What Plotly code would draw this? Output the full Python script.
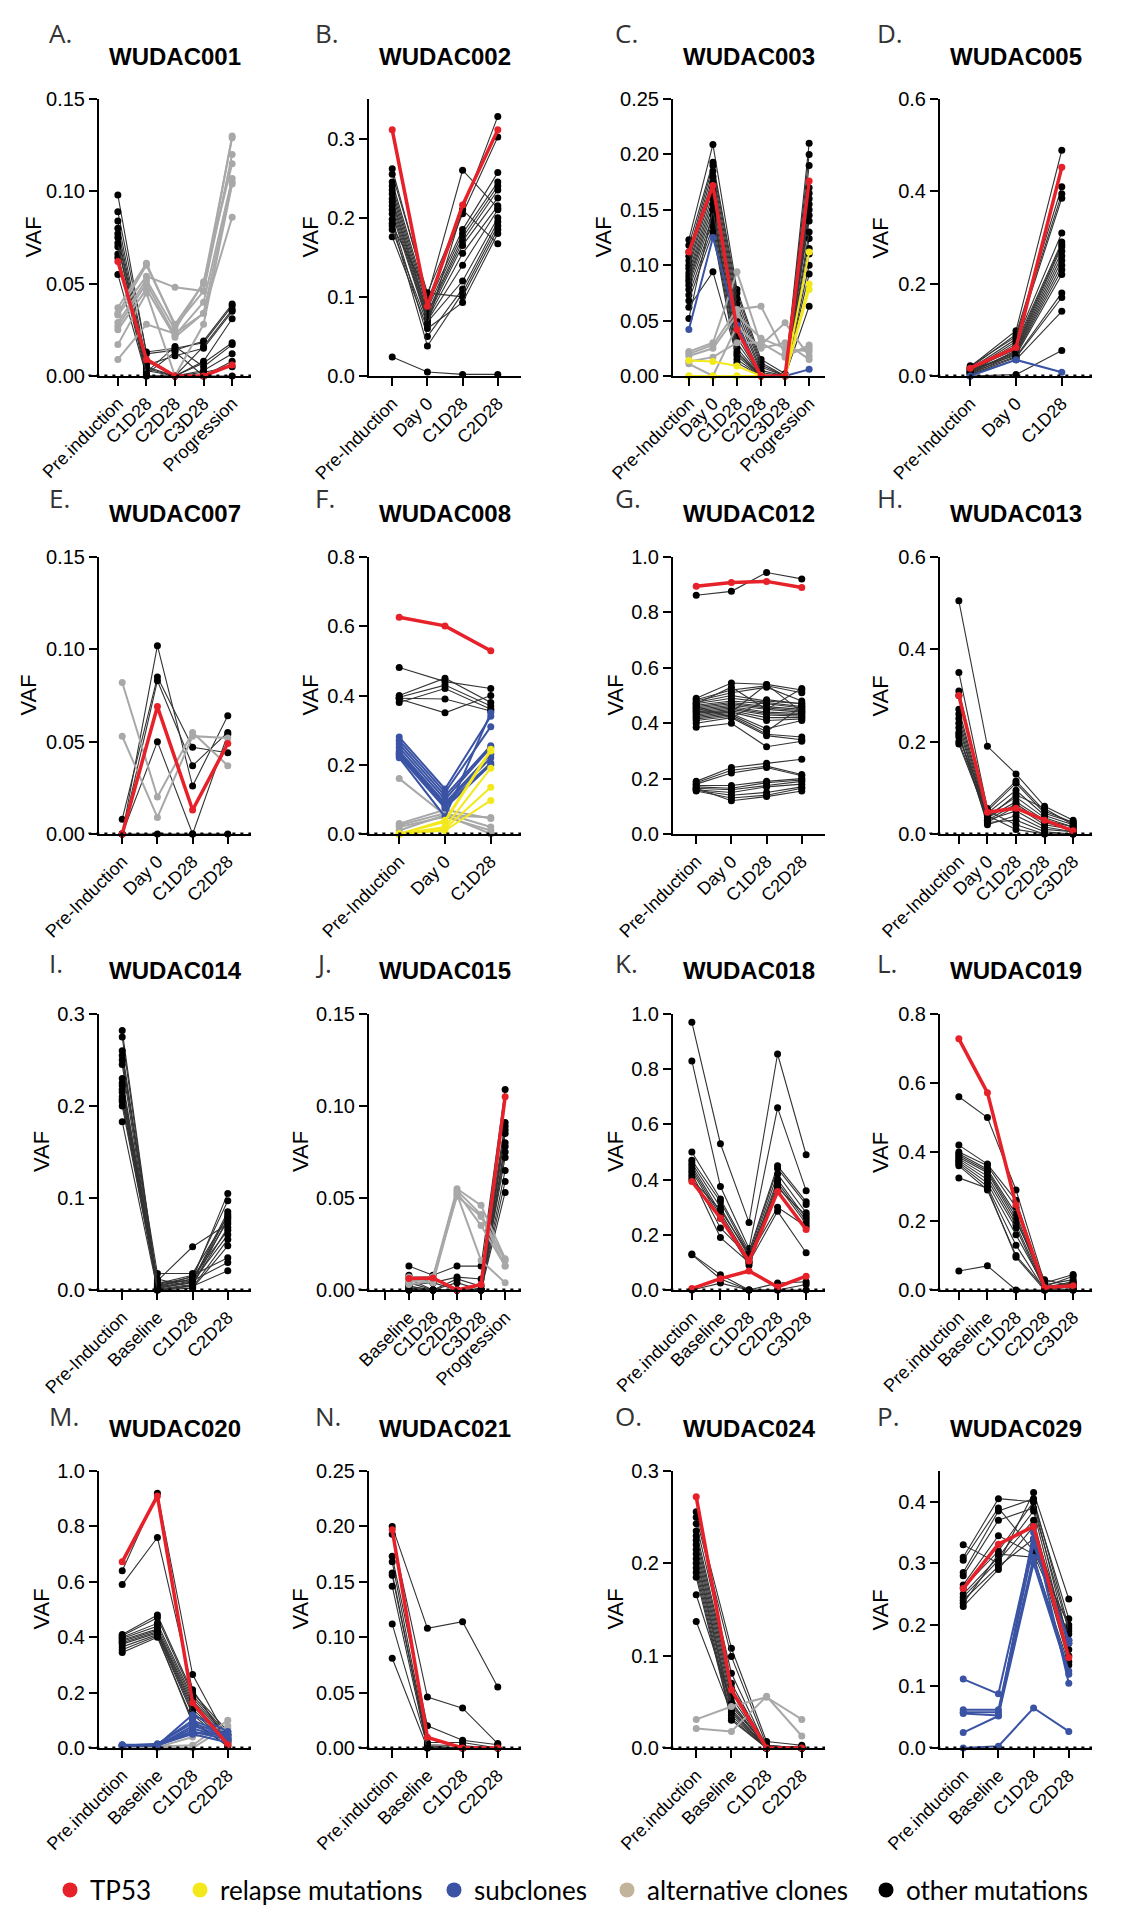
import plotly.graph_objects as go

# ---------------- data ----------------
A_cats = ["Pre.induction", "C1D28", "C2D28", "C3D28", "Progression"]
A_red = [[0.062, 0.009, 0.0, 0.0, 0.006]]
A_black = [
    [0.098, 0.012, 0.014, 0.019, 0.039], [0.089, 0.013, 0.015, 0.018, 0.038],
    [0.084, 0.008, 0.0, 0.016, 0.036], [0.080, 0.006, 0.011, 0.015, 0.035],
    [0.077, 0.004, 0.0, 0.008, 0.031], [0.075, 0.003, 0.0, 0.007, 0.018],
    [0.066, 0.002, 0.016, 0.005, 0.017], [0.064, 0.0, 0.0, 0.003, 0.012],
    [0.055, 0.0, 0.0, 0.002, 0.005], [0.070, 0.005, 0.0, 0.0, 0.0],
    [0.072, 0.001, 0.013, 0.0, 0.008]]
A_gray = [
    [0.037, 0.061, 0.027, 0.046, 0.130], [0.034, 0.060, 0.028, 0.050, 0.129],
    [0.033, 0.054, 0.048, 0.046, 0.120], [0.029, 0.052, 0.025, 0.051, 0.115],
    [0.027, 0.050, 0.022, 0.040, 0.107], [0.025, 0.047, 0.021, 0.034, 0.105],
    [0.017, 0.045, 0.0, 0.028, 0.104], [0.009, 0.028, 0.023, 0.034, 0.086]]

B_cats = ["Pre-Induction", "Day 0", "C1D28", "C2D28"]
B_red = [[0.311, 0.088, 0.216, 0.311]]
B_black = [
    [0.262, 0.100, 0.260, 0.212], [0.255, 0.105, 0.210, 0.328], [0.245, 0.095, 0.205, 0.302],
    [0.240, 0.090, 0.185, 0.257], [0.235, 0.085, 0.180, 0.245], [0.230, 0.080, 0.175, 0.240],
    [0.224, 0.078, 0.170, 0.235], [0.220, 0.075, 0.165, 0.225], [0.215, 0.072, 0.155, 0.215],
    [0.210, 0.070, 0.140, 0.210], [0.205, 0.068, 0.120, 0.200], [0.198, 0.050, 0.110, 0.195],
    [0.193, 0.038, 0.105, 0.190], [0.190, 0.105, 0.100, 0.185], [0.176, 0.060, 0.093, 0.180],
    [0.185, 0.065, 0.210, 0.167], [0.024, 0.005, 0.002, 0.002]]

C_cats = ["Pre-Induction", "Day 0", "C1D28", "C2D28", "C3D28", "Progression"]
C_red = [[0.112, 0.172, 0.042, 0.0, 0.0, 0.176]]
C_black = [
    [0.123, 0.209, 0.078, 0.015, 0.002, 0.210], [0.118, 0.193, 0.075, 0.012, 0.0, 0.200],
    [0.112, 0.190, 0.070, 0.010, 0.0, 0.190], [0.108, 0.185, 0.065, 0.008, 0.0, 0.170],
    [0.104, 0.180, 0.060, 0.005, 0.0, 0.165], [0.100, 0.175, 0.055, 0.003, 0.0, 0.160],
    [0.097, 0.170, 0.050, 0.0, 0.0, 0.155], [0.093, 0.165, 0.045, 0.0, 0.0, 0.150],
    [0.090, 0.160, 0.040, 0.0, 0.0, 0.145], [0.087, 0.155, 0.035, 0.0, 0.0, 0.140],
    [0.085, 0.150, 0.030, 0.0, 0.0, 0.124], [0.082, 0.145, 0.025, 0.0, 0.0, 0.115],
    [0.078, 0.140, 0.020, 0.0, 0.0, 0.110], [0.073, 0.135, 0.015, 0.0, 0.0, 0.100],
    [0.068, 0.130, 0.012, 0.0, 0.0, 0.092], [0.062, 0.094, 0.018, 0.0, 0.0, 0.063],
    [0.052, 0.150, 0.022, 0.0, 0.0, 0.130]]
C_gray = [
    [0.022, 0.030, 0.094, 0.028, 0.048, 0.018], [0.020, 0.028, 0.060, 0.063, 0.020, 0.025],
    [0.018, 0.025, 0.055, 0.034, 0.025, 0.022], [0.013, 0.017, 0.030, 0.030, 0.017, 0.028],
    [0.011, 0.0, 0.045, 0.025, 0.030, 0.015]]
C_blue = [[0.042, 0.125, 0.046, 0.0, 0.0, 0.006]]
C_yellow = [[0.014, 0.013, 0.009, 0.0, 0.0, 0.112], [0.0, 0.0, 0.0, 0.0, 0.0, 0.083],
            [0.0, 0.0, 0.0, 0.0, 0.0, 0.078]]

D_cats = ["Pre-Induction", "Day 0", "C1D28"]
D_red = [[0.017, 0.062, 0.452]]
D_black = [
    [0.020, 0.098, 0.489], [0.018, 0.090, 0.410], [0.022, 0.085, 0.395], [0.015, 0.080, 0.385],
    [0.012, 0.075, 0.310], [0.010, 0.070, 0.290], [0.008, 0.065, 0.285], [0.016, 0.060, 0.280],
    [0.014, 0.058, 0.270], [0.006, 0.055, 0.260], [0.011, 0.052, 0.250], [0.009, 0.050, 0.240],
    [0.005, 0.048, 0.230], [0.013, 0.045, 0.220], [0.007, 0.042, 0.180], [0.004, 0.040, 0.170],
    [0.003, 0.035, 0.140], [0.0, 0.003, 0.055]]
D_blue = [[0.0, 0.035, 0.008]]

E_cats = ["Pre-Induction", "Day 0", "C1D28", "C2D28"]
E_red = [[0.0, 0.069, 0.013, 0.049]]
E_black = [[0.008, 0.085, 0.047, 0.044], [0.0, 0.102, 0.026, 0.064], [0.0, 0.083, 0.037, 0.055],
           [0.0, 0.050, 0.0, 0.054], [0.0, 0.0, 0.0, 0.0]]
E_gray = [[0.082, 0.020, 0.055, 0.037], [0.053, 0.009, 0.053, 0.052]]

F_cats = ["Pre-Induction", "Day 0", "C1D28"]
F_red = [[0.626, 0.601, 0.529]]
F_black = [[0.481, 0.440, 0.420], [0.400, 0.450, 0.380], [0.395, 0.430, 0.370],
           [0.390, 0.350, 0.400], [0.380, 0.420, 0.360], [0.392, 0.390, 0.355]]
F_blue = [[0.280, 0.130, 0.340], [0.270, 0.120, 0.310], [0.260, 0.110, 0.255],
          [0.250, 0.100, 0.250], [0.240, 0.090, 0.230], [0.235, 0.085, 0.220],
          [0.230, 0.080, 0.205], [0.225, 0.075, 0.200], [0.220, 0.050, 0.350]]
F_yellow = [[0.0, 0.040, 0.245], [0.0, 0.035, 0.240], [0.0, 0.020, 0.190],
            [0.0, 0.015, 0.135], [0.0, 0.010, 0.097]]
F_gray = [[0.160, 0.055, 0.048], [0.030, 0.070, 0.045], [0.025, 0.060, 0.020],
          [0.020, 0.050, 0.010], [0.010, 0.055, 0.0]]

G_cats = ["Pre-Induction", "Day 0", "C1D28", "C2D28"]
G_red = [[0.894, 0.908, 0.912, 0.890]]
G_black = [
    [0.862, 0.876, 0.944, 0.921],
    [0.49, 0.545, 0.54, 0.52], [0.485, 0.52, 0.535, 0.51], [0.48, 0.51, 0.53, 0.48],
    [0.475, 0.50, 0.48, 0.47], [0.47, 0.49, 0.475, 0.46], [0.465, 0.48, 0.47, 0.455],
    [0.46, 0.475, 0.46, 0.45], [0.455, 0.47, 0.455, 0.445], [0.45, 0.465, 0.45, 0.44],
    [0.445, 0.46, 0.44, 0.435], [0.44, 0.455, 0.435, 0.43], [0.435, 0.45, 0.43, 0.425],
    [0.43, 0.445, 0.42, 0.42], [0.425, 0.44, 0.41, 0.415], [0.42, 0.435, 0.38, 0.41],
    [0.415, 0.43, 0.37, 0.46], [0.41, 0.425, 0.36, 0.35], [0.40, 0.42, 0.355, 0.34],
    [0.385, 0.40, 0.315, 0.335], [0.44, 0.44, 0.54, 0.44], [0.47, 0.53, 0.45, 0.525],
    [0.455, 0.42, 0.485, 0.47],
    [0.19, 0.24, 0.255, 0.27], [0.185, 0.23, 0.245, 0.215], [0.18, 0.22, 0.24, 0.21],
    [0.175, 0.175, 0.19, 0.20], [0.17, 0.165, 0.185, 0.195], [0.165, 0.16, 0.175, 0.19],
    [0.16, 0.15, 0.17, 0.18], [0.158, 0.14, 0.15, 0.17], [0.155, 0.13, 0.14, 0.165],
    [0.165, 0.12, 0.135, 0.155]]

H_cats = ["Pre-Induction", "Day 0", "C1D28", "C2D28", "C3D28"]
H_red = [[0.300, 0.047, 0.056, 0.030, 0.007]]
H_black = [
    [0.505, 0.190, 0.130, 0.060, 0.030], [0.350, 0.055, 0.115, 0.050, 0.025],
    [0.310, 0.050, 0.110, 0.045, 0.025], [0.300, 0.045, 0.095, 0.040, 0.020],
    [0.270, 0.040, 0.080, 0.035, 0.015], [0.260, 0.035, 0.070, 0.030, 0.015],
    [0.250, 0.030, 0.065, 0.025, 0.010], [0.240, 0.025, 0.060, 0.020, 0.010],
    [0.230, 0.030, 0.050, 0.015, 0.005], [0.220, 0.020, 0.040, 0.010, 0.005],
    [0.215, 0.025, 0.030, 0.005, 0.0], [0.210, 0.050, 0.020, 0.0, 0.0],
    [0.200, 0.040, 0.010, 0.0, 0.0], [0.195, 0.035, 0.085, 0.055, 0.020]]

I_cats = ["Pre-Induction", "Baseline", "C1D28", "C2D28"]
I_black = [
    [0.282, 0.005, 0.012, 0.105], [0.275, 0.003, 0.015, 0.097], [0.260, 0.008, 0.010, 0.085],
    [0.255, 0.002, 0.008, 0.082], [0.250, 0.018, 0.018, 0.080], [0.245, 0.0, 0.005, 0.078],
    [0.230, 0.004, 0.012, 0.075], [0.225, 0.010, 0.047, 0.072], [0.222, 0.001, 0.006, 0.068],
    [0.218, 0.006, 0.014, 0.065], [0.215, 0.002, 0.009, 0.060], [0.210, 0.012, 0.003, 0.055],
    [0.207, 0.0, 0.002, 0.048], [0.205, 0.007, 0.016, 0.035], [0.200, 0.003, 0.010, 0.030],
    [0.183, 0.0, 0.004, 0.021]]

J_cats = ["", "Baseline", "C1D28", "C2D28", "C3D28", "Progression"]
J_red = [[None, 0.0063, 0.0065, 0.0, 0.003, 0.105]]
J_black = [
    [None, 0.013, 0.008, 0.013, 0.013, 0.109], [None, 0.008, 0.004, 0.007, 0.006, 0.091],
    [None, 0.006, 0.0, 0.006, 0.002, 0.089], [None, 0.004, 0.0, 0.004, 0.0, 0.087],
    [None, 0.002, 0.0, 0.0, 0.0, 0.085], [None, 0.0, 0.0, 0.0, 0.0, 0.080],
    [None, 0.003, 0.004, 0.0, 0.0, 0.078], [None, 0.0, 0.0, 0.0, 0.0, 0.075],
    [None, 0.001, 0.0, 0.0, 0.0, 0.072], [None, 0.0, 0.0, 0.0, 0.0, 0.065],
    [None, 0.002, 0.0, 0.0, 0.0, 0.059], [None, 0.0, 0.0, 0.0, 0.0, 0.053]]
J_gray = [
    [None, 0.007, 0.007, 0.055, 0.046, 0.017], [None, 0.005, 0.006, 0.054, 0.041, 0.016],
    [None, 0.003, 0.005, 0.053, 0.035, 0.013], [None, 0.006, 0.004, 0.052, 0.016, 0.004],
    [None, 0.004, 0.007, 0.051, 0.040, 0.013]]

K_cats = ["Pre.induction", "Baseline", "C1D28", "C2D28", "C3D28"]
K_red = [[0.393, 0.261, 0.105, 0.357, 0.219], [0.005, 0.041, 0.069, 0.011, 0.050]]
K_black = [
    [0.97, 0.53, 0.245, 0.855, 0.49], [0.83, 0.375, 0.15, 0.66, 0.36],
    [0.50, 0.33, 0.14, 0.45, 0.32], [0.47, 0.32, 0.13, 0.44, 0.31],
    [0.46, 0.30, 0.12, 0.42, 0.28], [0.45, 0.28, 0.11, 0.40, 0.26],
    [0.44, 0.27, 0.10, 0.39, 0.25], [0.43, 0.26, 0.09, 0.38, 0.24],
    [0.42, 0.225, 0.12, 0.30, 0.23], [0.41, 0.19, 0.10, 0.285, 0.135],
    [0.40, 0.29, 0.13, 0.37, 0.27], [0.13, 0.055, 0.0, 0.025, 0.03],
    [0.128, 0.04, 0.0, 0.0, 0.02], [0.0, 0.025, 0.0, 0.0, 0.0]]

L_cats = ["Pre.induction", "Baseline", "C1D28", "C2D28", "C3D28"]
L_red = [[0.728, 0.572, 0.247, 0.007, 0.012]]
L_black = [
    [0.560, 0.500, 0.290, 0.020, 0.045], [0.420, 0.365, 0.260, 0.010, 0.040],
    [0.400, 0.360, 0.240, 0.015, 0.030], [0.395, 0.350, 0.220, 0.010, 0.020],
    [0.390, 0.345, 0.210, 0.005, 0.025], [0.385, 0.340, 0.200, 0.030, 0.010],
    [0.380, 0.330, 0.190, 0.005, 0.015], [0.375, 0.320, 0.180, 0.0, 0.010],
    [0.370, 0.310, 0.160, 0.010, 0.005], [0.365, 0.300, 0.130, 0.0, 0.0],
    [0.360, 0.290, 0.100, 0.005, 0.0], [0.325, 0.295, 0.095, 0.0, 0.020],
    [0.055, 0.070, 0.0, 0.0, 0.0]]

M_cats = ["Pre.induction", "Baseline", "C1D28", "C2D28"]
M_red = [[0.672, 0.910, 0.163, 0.012]]
M_black = [
    [0.640, 0.920, 0.265, 0.030], [0.590, 0.760, 0.210, 0.025], [0.410, 0.480, 0.200, 0.060],
    [0.405, 0.470, 0.190, 0.050], [0.400, 0.450, 0.180, 0.045], [0.395, 0.440, 0.170, 0.040],
    [0.390, 0.430, 0.160, 0.035], [0.385, 0.425, 0.150, 0.030], [0.380, 0.420, 0.140, 0.025],
    [0.375, 0.415, 0.130, 0.020], [0.365, 0.410, 0.120, 0.015], [0.355, 0.405, 0.090, 0.010],
    [0.345, 0.400, 0.100, 0.005]]
M_blue = [
    [0.010, 0.010, 0.120, 0.060], [0.012, 0.012, 0.100, 0.050], [0.008, 0.015, 0.090, 0.045],
    [0.010, 0.008, 0.080, 0.040], [0.006, 0.010, 0.070, 0.035], [0.009, 0.012, 0.060, 0.030],
    [0.011, 0.009, 0.055, 0.050], [0.007, 0.011, 0.050, 0.020]]
M_gray = [[0.005, 0.005, 0.010, 0.100], [0.005, 0.0, 0.0, 0.080], [0.003, 0.003, 0.040, 0.070]]

N_cats = ["Pre.induction", "Baseline", "C1D28", "C2D28"]
N_red = [[0.197, 0.0096, 0.0, 0.0]]
N_black = [
    [0.200, 0.108, 0.114, 0.055], [0.193, 0.046, 0.036, 0.004], [0.173, 0.020, 0.007, 0.003],
    [0.168, 0.005, 0.005, 0.0], [0.158, 0.003, 0.002, 0.0], [0.156, 0.001, 0.0, 0.0],
    [0.146, 0.0, 0.0, 0.0], [0.112, 0.002, 0.0, 0.0], [0.081, 0.0, 0.0, 0.0]]

O_cats = ["Pre.induction", "Baseline", "C1D28", "C2D28"]
O_red = [[0.272, 0.063, 0.0, 0.0]]
O_black = [
    [0.256, 0.108, 0.007, 0.003], [0.250, 0.099, 0.003, 0.0], [0.243, 0.081, 0.0, 0.0],
    [0.235, 0.070, 0.0, 0.0], [0.230, 0.065, 0.003, 0.0], [0.225, 0.060, 0.0, 0.0],
    [0.220, 0.055, 0.0, 0.002], [0.215, 0.050, 0.0, 0.0], [0.210, 0.045, 0.002, 0.0],
    [0.205, 0.042, 0.0, 0.0], [0.200, 0.040, 0.0, 0.0], [0.195, 0.035, 0.0, 0.0],
    [0.190, 0.032, 0.0, 0.0], [0.185, 0.030, 0.0, 0.0], [0.166, 0.048, 0.0, 0.0],
    [0.137, 0.038, 0.0, 0.0]]
O_gray = [[0.031, 0.045, 0.055, 0.031], [0.021, 0.018, 0.056, 0.013]]

P_cats = ["Pre.induction", "Baseline", "C1D28", "C2D28"]
P_red = [[0.259, 0.331, 0.360, 0.147]]
P_black = [
    [0.330, 0.300, 0.415, 0.242], [0.310, 0.405, 0.400, 0.210], [0.305, 0.390, 0.320, 0.200],
    [0.285, 0.385, 0.405, 0.195], [0.280, 0.370, 0.390, 0.190], [0.265, 0.345, 0.315, 0.185],
    [0.260, 0.320, 0.400, 0.170], [0.250, 0.310, 0.385, 0.160], [0.245, 0.305, 0.370, 0.150],
    [0.240, 0.295, 0.340, 0.140], [0.235, 0.315, 0.310, 0.135], [0.230, 0.290, 0.360, 0.175]]
P_blue = [[0.112, 0.088, 0.340, 0.170], [0.062, 0.062, 0.330, 0.175], [0.058, 0.058, 0.310, 0.125],
          [0.056, 0.053, 0.300, 0.120], [0.025, 0.052, 0.350, 0.105], [0.0, 0.003, 0.065, 0.027]]

titles = ["WUDAC001", "WUDAC002", "WUDAC003", "WUDAC005", "WUDAC007", "WUDAC008",
          "WUDAC012", "WUDAC013", "WUDAC014", "WUDAC015", "WUDAC018", "WUDAC019",
          "WUDAC020", "WUDAC021", "WUDAC024", "WUDAC029"]
letters = ["A.", "B.", "C.", "D.", "E.", "F.", "G.", "H.", "I.", "J.", "K.", "L.",
           "M.", "N.", "O.", "P."]
y_max = [0.15, 0.35, 0.25, 0.6, 0.15, 0.8, 1.0, 0.6, 0.3, 0.15, 1.0, 0.8, 1.0, 0.25, 0.3, 0.45]
y_step = [0.05, 0.1, 0.05, 0.2, 0.05, 0.2, 0.2, 0.2, 0.1, 0.05, 0.2, 0.2, 0.2, 0.05, 0.1, 0.1]
y_fmt = [".2f", ".1f", ".2f", ".1f", ".2f", ".1f", ".1f", ".1f", ".1f", ".2f", ".1f", ".1f",
         ".1f", ".2f", ".1f", ".1f"]
dotted_zero = [True, False, False, True, True, True, False, True, True, True, True, True,
               True, True, True, True]
legend_names = ["TP53", "relapse mutations", "subclones", "alternative clones", "other mutations"]

# ---------------- styles ----------------
RED = "#E62129"
YELLOW = "#F3E81C"
BLUE = "#3A53A4"
GRAY = "#A8A8A8"
TAN = "#C2B49A"
BLACK = "#000000"
TICKFONT = "Liberation Sans, Arial, sans-serif"

panels = [
    (A_cats, {"black": A_black, "gray": A_gray, "red": A_red}),
    (B_cats, {"black": B_black, "red": B_red}),
    (C_cats, {"black": C_black, "gray": C_gray, "blue": C_blue, "yellow": C_yellow, "red": C_red}),
    (D_cats, {"black": D_black, "blue": D_blue, "red": D_red}),
    (E_cats, {"gray": E_gray, "black": E_black, "red": E_red}),
    (F_cats, {"gray": F_gray, "black": F_black, "blue": F_blue, "yellow": F_yellow, "red": F_red}),
    (G_cats, {"black": G_black, "red": G_red}),
    (H_cats, {"black": H_black, "red": H_red}),
    (I_cats, {"black": I_black}),
    (J_cats, {"black": J_black, "gray": J_gray, "red": J_red}),
    (K_cats, {"black": K_black, "red": K_red}),
    (L_cats, {"black": L_black, "red": L_red}),
    (M_cats, {"black": M_black, "gray": M_gray, "blue": M_blue, "red": M_red}),
    (N_cats, {"black": N_black, "red": N_red}),
    (O_cats, {"gray": O_gray, "black": O_black, "red": O_red}),
    (P_cats, {"black": P_black, "blue": P_blue, "red": P_red}),
]

STYLE = {
    "black": dict(line=dict(color="#333333", width=1.1), marker=dict(color=BLACK, size=7)),
    "gray": dict(line=dict(color=GRAY, width=2), marker=dict(color=GRAY, size=7)),
    "blue": dict(line=dict(color=BLUE, width=2), marker=dict(color=BLUE, size=7)),
    "yellow": dict(line=dict(color=YELLOW, width=2), marker=dict(color=YELLOW, size=7)),
    "red": dict(line=dict(color=RED, width=3.5), marker=dict(color=RED, size=7)),
}

W, H = 1124, 1910
col_px = [(91, 243), (361, 513), (665, 817), (932, 1084)]
row_px = [(91, 368), (549, 826), (1006, 1282), (1463, 1740)]
title_y = [48, 505, 962, 1420]
letter_y = [25, 490, 955, 1408]
letter_x = [39, 305, 605, 867]
vaf_x = [25, 302, 595, 872, 20, 302, 607, 872, 33, 292, 607, 872, 33, 292, 607, 872]
legend_dot_x = [69, 199, 453, 626, 885]
LEGEND_Y = 1882

fig = go.Figure()
layout = {}
annotations = []
shapes = []

for i, (cats, groups) in enumerate(panels):
    r, c = divmod(i, 4)
    n = i + 1
    xa = "x" if n == 1 else f"x{n}"
    ya = "y" if n == 1 else f"y{n}"
    xs = list(range(len(cats)))
    for key in ["black", "gray", "blue", "yellow", "red"]:
        if key not in groups:
            continue
        for series in groups[key]:
            fig.add_trace(go.Scatter(
                x=xs, y=series, xaxis=xa, yaxis=ya, mode="lines+markers",
                line=STYLE[key]["line"], marker=STYLE[key]["marker"],
                showlegend=False, hoverinfo="skip", cliponaxis=False))
    x0, x1 = col_px[c]
    y0, y1 = row_px[r]
    nt = int(round(y_max[i] / y_step[i] + 1e-9))
    tv = [round(k * y_step[i], 4) for k in range(nt + 1)]
    if tv[-1] > y_max[i] + 1e-9:
        tv = tv[:-1]
    layout["xaxis" if n == 1 else f"xaxis{n}"] = dict(
        domain=[x0 / W, x1 / W], anchor=ya, range=[-0.66, len(cats) - 1 + 0.66],
        tickvals=xs, ticktext=cats, tickangle=-45, showline=True, linecolor=BLACK,
        linewidth=2, ticks="outside", ticklen=8, tickwidth=2, tickcolor=BLACK,
        showgrid=False, zeroline=False, automargin=False,
        tickfont=dict(family=TICKFONT, size=18, color=BLACK))
    layout["yaxis" if n == 1 else f"yaxis{n}"] = dict(
        domain=[1 - y1 / H, 1 - y0 / H], anchor=xa, range=[0, y_max[i]],
        tickvals=tv, tickformat=y_fmt[i], showline=True, linecolor=BLACK, linewidth=2,
        ticks="outside", ticklen=8, tickwidth=2, tickcolor=BLACK, showgrid=False,
        zeroline=False, automargin=False,
        tickfont=dict(family=TICKFONT, size=20, color=BLACK))
    annotations.append(dict(text="<b>" + titles[i] + "</b>", x=(x0 + x1) / 2 / W,
                             y=1 - title_y[r] / H, xref="paper", yref="paper", showarrow=False,
                             xanchor="center", yanchor="middle",
                             font=dict(family=TICKFONT, size=24, color=BLACK)))
    annotations.append(dict(text=letters[i], x=letter_x[c] / W, y=1 - letter_y[r] / H,
                            xref="paper", yref="paper", showarrow=False, xanchor="left",
                            yanchor="middle", font=dict(family="Open Sans", size=26, color="#333333")))
    annotations.append(dict(text="VAF", x=vaf_x[i] / W, y=1 - (y0 + y1) / 2 / H,
                            xref="paper", yref="paper", showarrow=False, textangle=-90,
                            xanchor="center", yanchor="middle",
                            font=dict(family=TICKFONT, size=22, color=BLACK)))
    if dotted_zero[i]:
        shapes.append(dict(type="line", xref=f"{xa} domain", yref=ya, x0=-0.07, x1=1.0,
                           y0=0, y1=0, line=dict(color=BLACK, width=3, dash="3px,5px"),
                           layer="above"))

# legend entries: one small legend per item, placed like the reference key
for k, (name, col) in enumerate(zip(legend_names, [RED, YELLOW, BLUE, TAN, BLACK])):
    lg = "legend" if k == 0 else f"legend{k + 1}"
    fig.add_trace(go.Scatter(x=[None], y=[None], mode="markers", name=name,
                             marker=dict(color=col, size=15), showlegend=True,
                             legend=lg, xaxis="x", yaxis="y"))
    layout[lg] = dict(orientation="h", xref="container", yref="container",
                      x=(legend_dot_x[k] - 27) / W, y=1 - LEGEND_Y / H,
                      xanchor="left", yanchor="middle",
                      font=dict(family="Lato", size=26, color=BLACK),
                      bgcolor="rgba(0,0,0,0)", itemclick=False)

fig.update_layout(
    width=W, height=H, margin=dict(l=0, r=0, t=0, b=0, autoexpand=False),
    paper_bgcolor="white", plot_bgcolor="white",
    annotations=annotations, shapes=shapes,
    **layout)

fig.write_html("out.html")
